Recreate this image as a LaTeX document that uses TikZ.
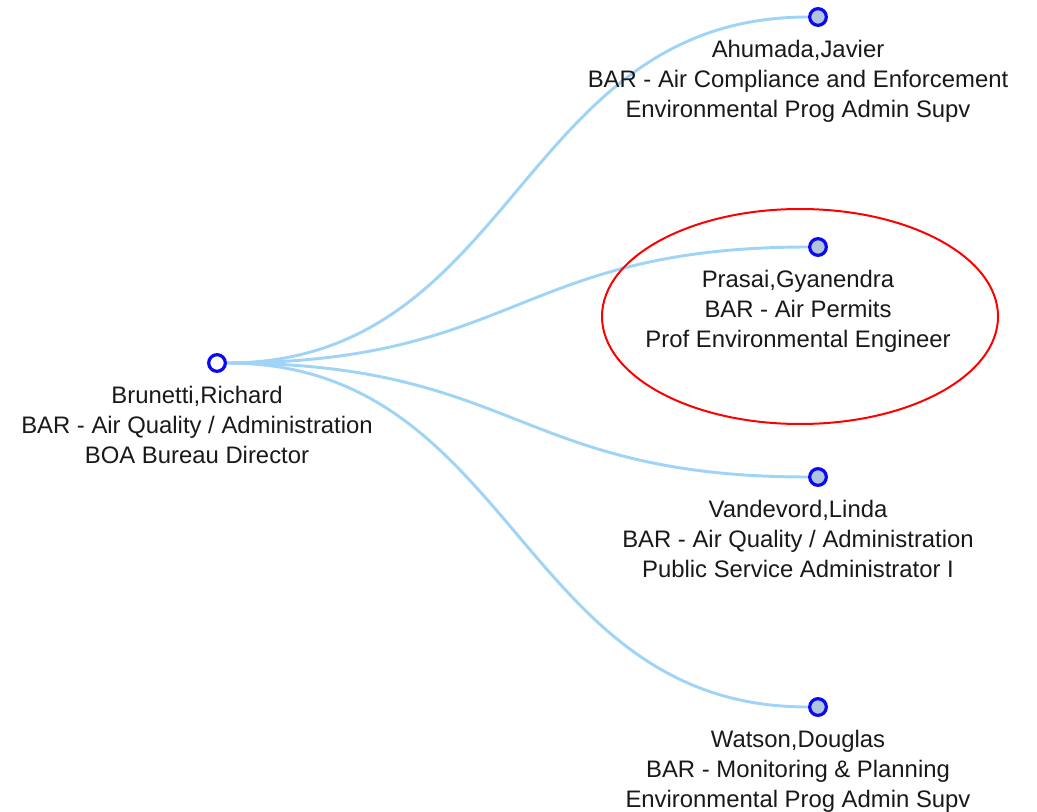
\documentclass[tikz,border=0pt]{standalone}
\usepackage{fontspec}
\setmainfont{Liberation Sans}
\usepackage{tikz}
\usepackage{xcolor}
\usetikzlibrary{backgrounds}

\definecolor{linkblue}{RGB}{160,212,246}
\definecolor{ringblue}{RGB}{10,10,240}
\definecolor{leaffill}{RGB}{176,196,222}

\begin{document}
\begin{tikzpicture}[x=0.75pt,y=-0.75pt,
  person/.style={circle,draw=ringblue,line width=2.4pt,minimum size=12.5pt,inner sep=0pt},
  leaf/.style={person,fill=leaffill},
  boss/.style={person,fill=white},
  info/.style={align=center,anchor=north,inner sep=0pt,text=black!90,
    font=\fontsize{17.9}{22.5}\selectfont},
  link/.style={draw=linkblue,line width=2.2pt}]
\useasboundingbox (0,0) rectangle (1037,812);

\node[boss] (B) at (217,363) {};
\node[leaf] (A) at (818, 17) {};
\node[leaf] (P) at (818,247) {};
\node[leaf] (V) at (818,477) {};
\node[leaf] (W) at (818,707) {};

\node[info] (Btxt) at (197,386) {Brunetti,Richard\\BAR - Air Quality / Administration\\BOA Bureau Director};
\node[info] (Atxt) at (798, 40) {Ahumada,Javier\\BAR - Air Compliance and Enforcement\\Environmental Prog Admin Supv};
\node[info] (Ptxt) at (798,270) {Prasai,Gyanendra\\BAR - Air Permits\\Prof Environmental Engineer};
\node[info] (Vtxt) at (798,500) {Vandevord,Linda\\BAR - Air Quality / Administration\\Public Service Administrator I};
\node[info] (Wtxt) at (798,730) {Watson,Douglas\\BAR - Monitoring \& Planning\\Environmental Prog Admin Supv};

\begin{pgfonlayer}{background}
\draw[link](B) .. controls +(300,0) and +(-300,0) .. (A);
\draw[link](B) .. controls +(300,0) and +(-300,0) .. (P);
\draw[link](B) .. controls +(300,0) and +(-300,0) .. (V);
\draw[link](B) .. controls +(300,0) and +(-300,0) .. (W);
\end{pgfonlayer}

% highlight
\draw[red,line width=1.5pt] (800,316.5) ellipse [x radius=198, y radius=107.5];
\end{tikzpicture}
\end{document}
